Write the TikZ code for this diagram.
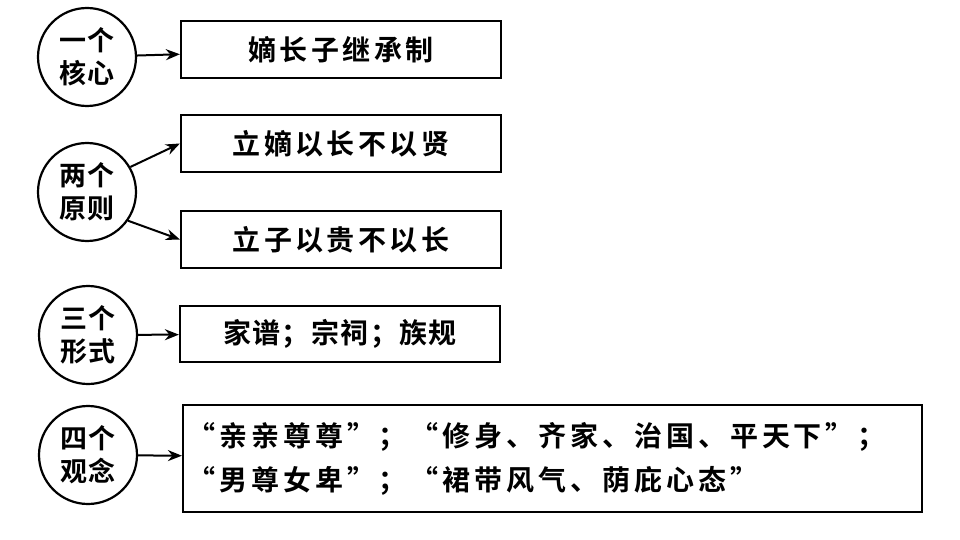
\documentclass[tikz,border=0pt]{standalone}
\usepackage{fontspec}
\newfontfamily\cjk[LetterSpace=12]{Noto Sans CJK SC Bold}
\newfontfamily\cjkb[LetterSpace=5]{Noto Sans CJK SC Bold}
\newfontfamily\cjkc[LetterSpace=14]{Noto Sans CJK SC Bold}
\usetikzlibrary{arrows.meta}
\begin{document}
\begin{tikzpicture}[x=1pt,y=-1pt,
  circ/.style={draw,line width=2.2pt,circle,minimum size=98pt,inner sep=0pt,font=\cjkb\fontsize{27}{33}\selectfont,align=center},
  bx/.style={draw,line width=2.2pt,rectangle,font=\cjk\fontsize{28}{44}\selectfont,align=left},
  arr/.style={-{Stealth[length=14pt,width=11pt]},line width=2pt}]
\useasboundingbox (0,0) rectangle (960,540);
\node[circ] (c1) at (87,57) {一个\\核心};
\node[circ] (c2) at (87,192) {两个\\原则};
\node[circ] (c3) at (88,335) {三个\\形式};
\node[circ] (c4) at (88,455) {四个\\观念};
\node[bx,minimum width=320pt,minimum height=57pt] (b1) at (341,49.5) {嫡长子继承制};
\node[bx,minimum width=320pt,minimum height=57pt] (b2) at (341,143.5) {立嫡以长不以贤};
\node[bx,minimum width=320pt,minimum height=57pt] (b3) at (341,239.5) {立子以贵不以长};
\node[bx,minimum width=320pt,minimum height=56pt,font=\cjkb\fontsize{28}{44}\selectfont] (b4) at (340,334) {家谱；宗祠；族规};
\node[bx,minimum width=739pt,minimum height=107pt,text width=730pt,inner xsep=4pt,font=\cjkc\fontsize{28}{44}\selectfont] (b5) at (552.5,458.5) {“亲亲尊尊”；“修身、齐家、治国、平天下”；\\“男尊女卑”；“裙带风气、荫庇心态”};
\draw[arr] (c1) -- (b1);
\draw[arr] (c2.30) -- (b2.west);
\draw[arr] (c2.-35) -- (b3.west);
\draw[arr] (c3) -- (b4);
\draw[arr] (c4) -- (b5);
\end{tikzpicture}
\end{document}
